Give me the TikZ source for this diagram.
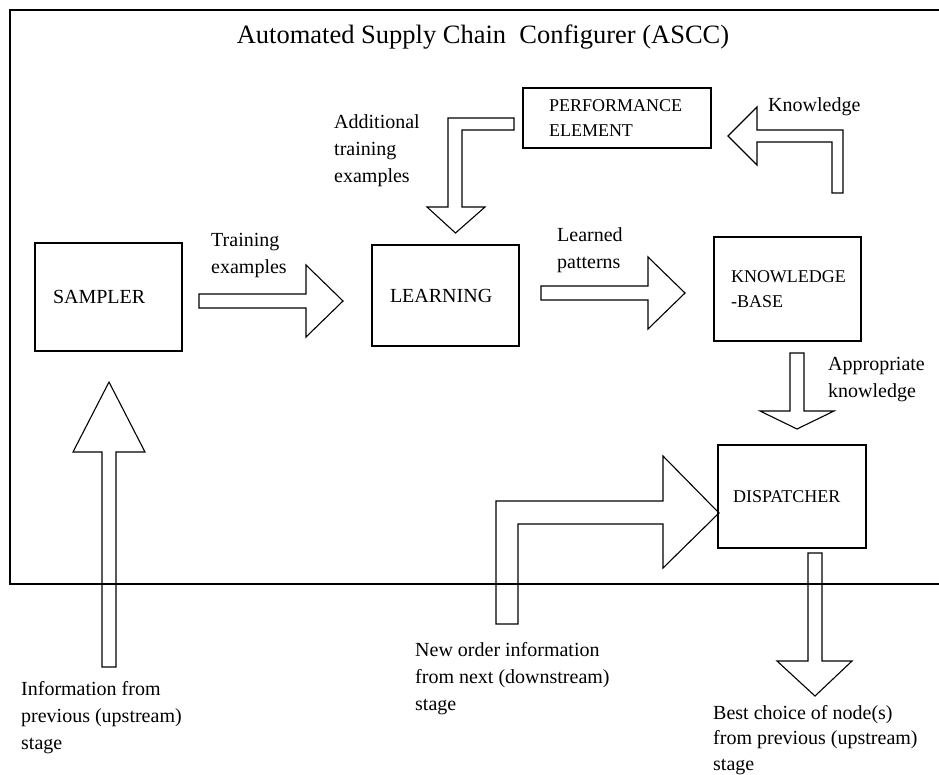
\documentclass[tikz,border=0pt]{standalone}
\usepackage{fontspec}
\setmainfont{Liberation Serif}
\begin{document}
\begin{tikzpicture}[x=1pt,y=-1pt,
  box/.style={draw, line width=1.1pt, align=left, inner ysep=0pt, font=\fontsize{18}{25.5}\selectfont},
  bigbox/.style={box, font=\fontsize{20}{27}\selectfont},
  lbl/.style={anchor=west, align=left, inner sep=0pt, font=\fontsize{20}{27}\selectfont},
  blockarrow/.style={draw, line width=1.1pt, line join=miter},
  frame/.style={draw, line width=1.2pt}]
\useasboundingbox (0,0) rectangle (939,774);
% frame
\draw[frame] (939,10) -- (10,10) -- (10,584) -- (939,584);
% title
\node[font=\fontsize{26.5}{32}\selectfont] (title) at (483,37) {Automated Supply Chain\ \ Configurer (ASCC)};
% boxes
\node[bigbox, minimum width=147pt, minimum height=108pt, inner xsep=18pt, text width=111pt] (sampler) at (108.5,297) {SAMPLER};
\node[bigbox, minimum width=147pt, minimum height=101pt, inner xsep=18pt, text width=111pt] (learning) at (445.5,295.5) {\raisebox{-4pt}{LEARNING}};
\node[box, minimum width=188pt, minimum height=60pt, inner xsep=26pt, text width=136pt] (perf) at (617,118) {PERFORMANCE\\ELEMENT};
\node[box, minimum width=147pt, minimum height=104pt, inner xsep=17pt, text width=113pt] (kb) at (787.5,289) {KNOWLEDGE\\-BASE};
\node[box, minimum width=148pt, minimum height=103pt, inner xsep=15pt, text width=118pt] (disp) at (792,496.5) {DISPATCHER};
% labels
\node[lbl] (addl) at (334,150.5) {Additional\\training\\examples};
\node[lbl] (trainl) at (211,256) {Training\\examples};
\node[lbl] (learnl) at (557,250.5) {Learned\\patterns};
\node[lbl] (knowl) at (768,107) {Knowledge};
\node[lbl] (approl) at (828,380) {Appropriate\\knowledge};
\node[lbl] (infol) at (21,717.5) {Information from\\previous (upstream)\\stage};
\node[lbl] (neworl) at (415,678.5) {New order information\\from next (downstream)\\stage};
\node[lbl, font=\fontsize{20}{25.5}\selectfont] (bestl) at (713,740) {Best choice of node(s)\\from previous (upstream)\\stage};
% block arrows
\draw[blockarrow] (199,294) -- (306,294) -- (306,265) -- (343,301) -- (306,337) -- (306,308) -- (199,308) -- cycle;
\draw[blockarrow] (541,286) -- (648,286) -- (648,257) -- (685,293) -- (648,329) -- (648,300) -- (541,300) -- cycle;
\draw[blockarrow] (790,353) -- (804,353) -- (804,411) -- (834,411) -- (797,429) -- (760,411) -- (790,411) -- cycle;
\draw[blockarrow] (808,553) -- (822,553) -- (822,661) -- (852,661) -- (815,696) -- (777,661) -- (808,661) -- cycle;
\draw[blockarrow] (102,667) -- (102,452) -- (73,452) -- (109,382) -- (145,452) -- (116,452) -- (116,667) -- cycle;
\draw[blockarrow] (514,118) -- (514,130) -- (462,130) -- (462,207) -- (485,207) -- (455.5,233) -- (427,207) -- (448,207) -- (448,118) -- cycle;
\draw[blockarrow] (728,136) -- (757,107) -- (757,130) -- (843,130) -- (843,193) -- (832,193) -- (832,142) -- (757,142) -- (757,165) -- cycle;
\draw[blockarrow] (496,624) -- (496,501) -- (663,501) -- (663,456) -- (719,513) -- (663,568) -- (663,524) -- (518,524) -- (518,624) -- cycle;
\end{tikzpicture}
\end{document}
